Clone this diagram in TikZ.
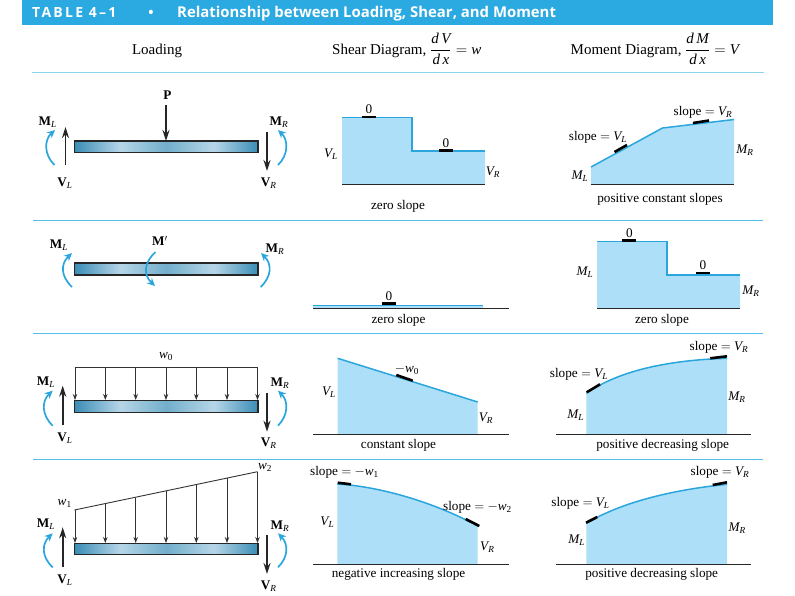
\documentclass[tikz,border=0pt]{standalone}
\usepackage{fix-cm}
\usepackage{amsmath}
\usepackage{fontspec}
\setmainfont{Liberation Serif}
\newfontfamily\headfont{Open Sans}
\newfontfamily\headspaced[LetterSpace=16]{Open Sans}
\usetikzlibrary{arrows.meta}
\definecolor{headBlue}{HTML}{2BA9E1}
\definecolor{ruleBlue}{HTML}{8CD3EF}
\definecolor{rowBlue}{HTML}{55BEE8}
\definecolor{areaBlue}{HTML}{ADDFF8}
\definecolor{curveBlue}{HTML}{2BA6DD}
\definecolor{beamDark}{HTML}{3A8DB6}
\definecolor{beamMid}{HTML}{72AECB}
\definecolor{beamLight}{HTML}{B6D6E7}
\pgfdeclarehorizontalshading{beamshade}{100bp}{color(0bp)=(beamDark); color(25bp)=(beamDark); color(37.5bp)=(beamLight); color(50bp)=(beamMid); color(63bp)=(beamLight); color(75bp)=(beamDark); color(100bp)=(beamDark)}
\newcommand{\itsym}[2]{$\mathit{#1}_{\mathit{#2}}$}
\newcommand{\bfsym}[2]{$\mathbf{#1}_{\mathit{#2}}$}
\newcommand{\slopeis}[1]{slope $=$ #1}
\tikzset{%
  txt/.style={inner sep=0pt,yshift=-1pt,font=\fontsize{13.2}{14}\selectfont},
  big/.style={inner sep=0pt,font=\fontsize{15}{16}\selectfont},
  beam/.style={shading=beamshade,draw=black!85,line width=1.1pt},
  force/.style={line width=1.6pt,black!85,-{Stealth[length=11pt,width=7pt]}},
  load/.style={line width=0.9pt,black!80,-{Stealth[length=6pt,width=4.5pt]}},
  moment/.style={line width=1.7pt,curveBlue,-{Stealth[length=8pt,width=7.5pt]}},
  area/.style={fill=areaBlue,draw=none},
  curve/.style={line width=1.5pt,curveBlue},
  tick/.style={line width=2.6pt,black},
  base/.style={line width=0.9pt,black!85},
  hrule/.style={line width=1pt,rowBlue}
}
\begin{document}
\begin{tikzpicture}[x=1pt,y=-1pt]
\useasboundingbox (0,0) rectangle (795,595);
\fill[headBlue] (22,0) rectangle (773,24.5);
\node [anchor=base west,inner sep=0pt,text=white,font=\fontsize{14}{15}\selectfont\headspaced\bfseries] (tableNode) at (32,17.3) {TABLE 4–1};
\node [anchor=base,inner sep=0pt,text=white,font=\fontsize{14}{15}\selectfont\headfont\bfseries] (dotNode) at (151,17.3) {•};
\node [anchor=base west,inner sep=0pt,text=white,font=\fontsize{14.9}{16}\selectfont\headfont\bfseries] (titleNode) at (177,17.3) {Relationship between Loading, Shear, and Moment};

\node [big,yshift=-1.5pt] (loadingHead) at (157,49) {Loading};
\node [big,anchor=west] (shearHead) at (332,49) {Shear Diagram, $\dfrac{\mathit{d\,V}}{\mathit{d\,x}} = \mathit{w}$};
\node [big,anchor=west] (momentHead) at (570.5,49) {Moment Diagram, $\dfrac{\mathit{d\,M}}{\mathit{d\,x}} = \mathit{V}$};

\draw[line width=1pt,ruleBlue] (32,72.7) -- (764,72.7);
\draw[hrule] (33,220) -- (763,220);
\draw[hrule] (33,333.7) -- (763,333.7);
\draw[hrule] (33,459.3) -- (763,459.3);

% first row
\shade[beam] (74.5,141) rectangle (258,152.5);
\node [txt] (pLabel) at (167.5,94.5) {\textbf{P}};
\draw[force] (166,105) -- (166,141);
\draw[force] (65.5,165) -- (65.5,127);
\draw[force] (267,132) -- (267,171);
\draw[moment] (54.5,165) .. controls (44,155) and (44,140) .. (55,130);
\draw[moment] (278,165) .. controls (288.5,155) and (288.5,140) .. (278,130);
\node [txt] (mlOne) at (47.7,120.7) {\bfsym{M}{L}};
\node [txt] (vlOne) at (65,181.7) {\bfsym{V}{L}};
\node [txt] (mrOne) at (279,120.7) {\bfsym{M}{R}};
\node [txt] (vrOne) at (268.7,181.7) {\bfsym{V}{R}};

\path[area] (342,117.7) -- (412,117.7) -- (412,151) -- (485,151) -- (485,184.5) -- (342,184.5) -- cycle;
\draw[curve] (342,117.7) -- (412,117.7) -- (412,151) -- (485,151);
\draw[base] (342,184.5) -- (485,184.5);
\draw[tick] (362,117) -- (376,117);
\draw[tick] (439,150.5) -- (453,150.5);
\node [txt] (zeroA) at (369,108) {0};
\node [txt] (zeroB) at (446,142) {0};
\node [txt] (vlTwo) at (331,153) {\itsym{V}{L}};
\node [txt] (vrTwo) at (493,171) {\itsym{V}{R}};
\node [txt] (zeroSlopeA) at (398,205) {zero slope};

\path[area] (591,167) -- (662.5,128) -- (734,119.5) -- (734,184.5) -- (591,184.5) -- cycle;
\draw[curve] (591,167) -- (662.5,128) -- (734,119.5);
\draw[base] (591,184.5) -- (734,184.5);
\draw[tick] (614.5,152) -- (627,145);
\draw[tick] (693,123) -- (709,120.5);
\node [txt] (slopeA) at (598,136) {\slopeis{\itsym{V}{L}}};
\node [txt] (slopeB) at (703,111) {\slopeis{\itsym{V}{R}}};
\node [txt] (mrTwo) at (745,149) {\itsym{M}{R}};
\node [txt] (mlTwo) at (580,175) {\itsym{M}{L}};
\node [txt] (posConst) at (660,198) {positive constant slopes};

% second row
\shade[beam] (74.5,263) rectangle (258,275);
\draw[moment] (72,287) .. controls (60.5,276) and (60.5,264) .. (72,253);
\draw[moment] (155.5,252) .. controls (143.5,263) and (143.5,275) .. (155,286);
\draw[moment] (260.7,287) .. controls (272,276) and (272,264) .. (261,253);
\node [txt] (mlThree) at (59,244) {\bfsym{M}{L}};
\node [txt] (mPrime) at (160,240) {$\mathbf{M}'$};
\node [txt] (mrThree) at (275,248) {\bfsym{M}{R}};

\path[area] (313.3,305) rectangle (483,308.5);
\draw[line width=1pt,curveBlue] (313.3,305) -- (483,305);
\draw[base] (313.3,308.5) -- (509,308.5);
\draw[tick] (381.5,303.5) -- (396,303.5);
\node [txt] (zeroC) at (389,295) {0};
\node [txt] (zeroSlopeB) at (398.5,319) {zero slope};

\path[area] (597,241.7) -- (667,241.7) -- (667,275) -- (740,275) -- (740,308.5) -- (597,308.5) -- cycle;
\draw[curve] (597,241.7) -- (667,241.7) -- (667,275) -- (740,275);
\draw[base] (597,308.5) -- (740,308.5);
\draw[tick] (622,240.3) -- (636,240.3);
\draw[tick] (696,273) -- (710,273);
\node [txt] (zeroD) at (629.5,232) {0};
\node [txt] (zeroE) at (703,264) {0};
\node [txt] (mlFour) at (585,271) {\itsym{M}{L}};
\node [txt] (mrFour) at (751,290) {\itsym{M}{R}};
\node [txt] (zeroSlopeC) at (662,319) {zero slope};

% third row
\shade[beam] (74.5,400.5) rectangle (258,412.5);
\draw[line width=0.9pt,black!80] (74.5,367.7) -- (257.5,367.7);
\draw[load] (75,367.7) -- (75,400);
\draw[load] (105.3,367.7) -- (105.3,400);
\draw[load] (135.7,367.7) -- (135.7,400);
\draw[load] (166,367.7) -- (166,400);
\draw[load] (196.3,367.7) -- (196.3,400);
\draw[load] (227,367.7) -- (227,400);
\draw[load] (257.5,367.7) -- (257.5,400);
\draw[force] (62.7,425) -- (62.7,385.7);
\draw[force] (267,392.7) -- (267,431.7);
\draw[moment] (52.7,425.7) .. controls (41.5,415) and (41.5,401) .. (52.7,390.7);
\draw[moment] (278,425.7) .. controls (288.5,415) and (288.5,401) .. (278,390.7);
\node [txt] (wZero) at (166,355.5) {$\mathit{w}_{\mathrm{0}}$};
\node [txt] (mlFive) at (46,381) {\bfsym{M}{L}};
\node [txt] (vlFive) at (65,437) {\bfsym{V}{L}};
\node [txt] (mrFive) at (280,382) {\bfsym{M}{R}};
\node [txt] (vrFive) at (268.7,442) {\bfsym{V}{R}};

\path[area] (337.7,358.3) -- (477.7,402) -- (477.7,434.3) -- (337.7,434.3) -- cycle;
\draw[curve] (337.7,358.3) -- (477.7,402);
\draw[base] (313.3,434.3) -- (509,434.3);
\draw[tick] (396.3,375) -- (412.7,380.7);
\node [txt] (minusWzero) at (407,369) {$-\mathit{w}_{\mathrm{0}}$};
\node [txt] (vlSix) at (329,391) {\itsym{V}{L}};
\node [txt] (vrSix) at (486,417.3) {\itsym{V}{R}};
\node [txt] (constSlope) at (398.5,444) {constant slope};

\path[area] (586.3,393.3) .. controls (620,370) and (670,360) .. (727,358.3) -- (727,434.3) -- (586.3,434.3) -- cycle;
\draw[curve] (586.3,393.3) .. controls (620,370) and (670,360) .. (727,358.3);
\draw[base] (555.5,434.3) -- (751,434.3);
\draw[tick] (586.7,392.3) -- (600,384.3);
\draw[tick] (710.3,358.3) -- (727,356.3);
\node [txt] (slopeC) at (719,346) {\slopeis{\itsym{V}{R}}};
\node [txt] (slopeD) at (579,373) {\slopeis{\itsym{V}{L}}};
\node [txt] (mrSix) at (737,396) {\itsym{M}{R}};
\node [txt] (mlSix) at (575.7,414.5) {\itsym{M}{L}};
\node [txt] (posDecA) at (662.7,444) {positive decreasing slope};

% fourth row
\shade[beam] (74.5,543.3) rectangle (258,554.7);
\draw[line width=0.9pt,black!80] (74.5,510) -- (257.5,471.7);
\draw[load] (75,510) -- (75,543);
\draw[load] (105.3,503.7) -- (105.3,543);
\draw[load] (135.7,497.5) -- (135.7,543);
\draw[load] (166,491) -- (166,543);
\draw[load] (196.3,484.7) -- (196.3,543);
\draw[load] (227,478.4) -- (227,543);
\draw[load] (257.5,471.7) -- (257.5,543);
\draw[force] (62.7,567.3) -- (62.7,527.3);
\draw[force] (267,535) -- (267,574);
\draw[moment] (52.7,567.3) .. controls (41.5,557) and (41.5,544) .. (52.7,533.3);
\draw[moment] (278,567.3) .. controls (288.5,557) and (288.5,544) .. (278,533.3);
\node [txt] (wOne) at (64.7,502.7) {$\mathit{w}_{\mathrm{1}}$};
\node [txt] (wTwo) at (265,466.7) {$\mathit{w}_{\mathrm{2}}$};
\node [txt] (mlSeven) at (46,523.5) {\bfsym{M}{L}};
\node [txt] (vlSeven) at (65,579) {\bfsym{V}{L}};
\node [txt] (mrSeven) at (280,525) {\bfsym{M}{R}};
\node [txt] (vrSeven) at (268.7,585) {\bfsym{V}{R}};

\path[area] (337.3,484) .. controls (375,486) and (430,500) .. (477.7,526) -- (477.7,564.3) -- (337.3,564.3) -- cycle;
\draw[curve] (337.3,484) .. controls (375,486) and (430,500) .. (477.7,526);
\draw[base] (313.3,564.3) -- (509,564.3);
\draw[tick] (337.7,482.7) -- (351,484.3);
\draw[tick] (465.7,519) -- (479.3,526);
\node [txt] (slopeE) at (344.5,471.5) {\slopeis{$-\mathit{w}_{\mathrm{1}}$}};
\node [txt] (slopeF) at (477.5,506) {\slopeis{$-\mathit{w}_{\mathrm{2}}$}};
\node [txt] (vlEight) at (327.3,521) {\itsym{V}{L}};
\node [txt] (vrEight) at (487.3,545.7) {\itsym{V}{R}};
\node [txt] (negInc) at (398.5,573.3) {negative increasing slope};

\path[area] (586.3,523.3) .. controls (620,503) and (670,490) .. (727,484.3) -- (727,564.3) -- (586.3,564.3) -- cycle;
\draw[curve] (586.3,523.3) .. controls (620,503) and (670,490) .. (727,484.3);
\draw[base] (555.5,564.3) -- (751,564.3);
\draw[tick] (586,522.7) -- (597.3,517);
\draw[tick] (712.7,485) -- (727,482.3);
\node [txt] (slopeG) at (720,471.5) {\slopeis{\itsym{V}{R}}};
\node [txt] (slopeH) at (580.5,502) {\slopeis{\itsym{V}{L}}};
\node [txt] (mrEight) at (737.3,526.7) {\itsym{M}{R}};
\node [txt] (mlEight) at (576.7,539.3) {\itsym{M}{L}};
\node [txt] (posDecB) at (651.7,573.3) {positive decreasing slope};
\end{tikzpicture}
\end{document}
